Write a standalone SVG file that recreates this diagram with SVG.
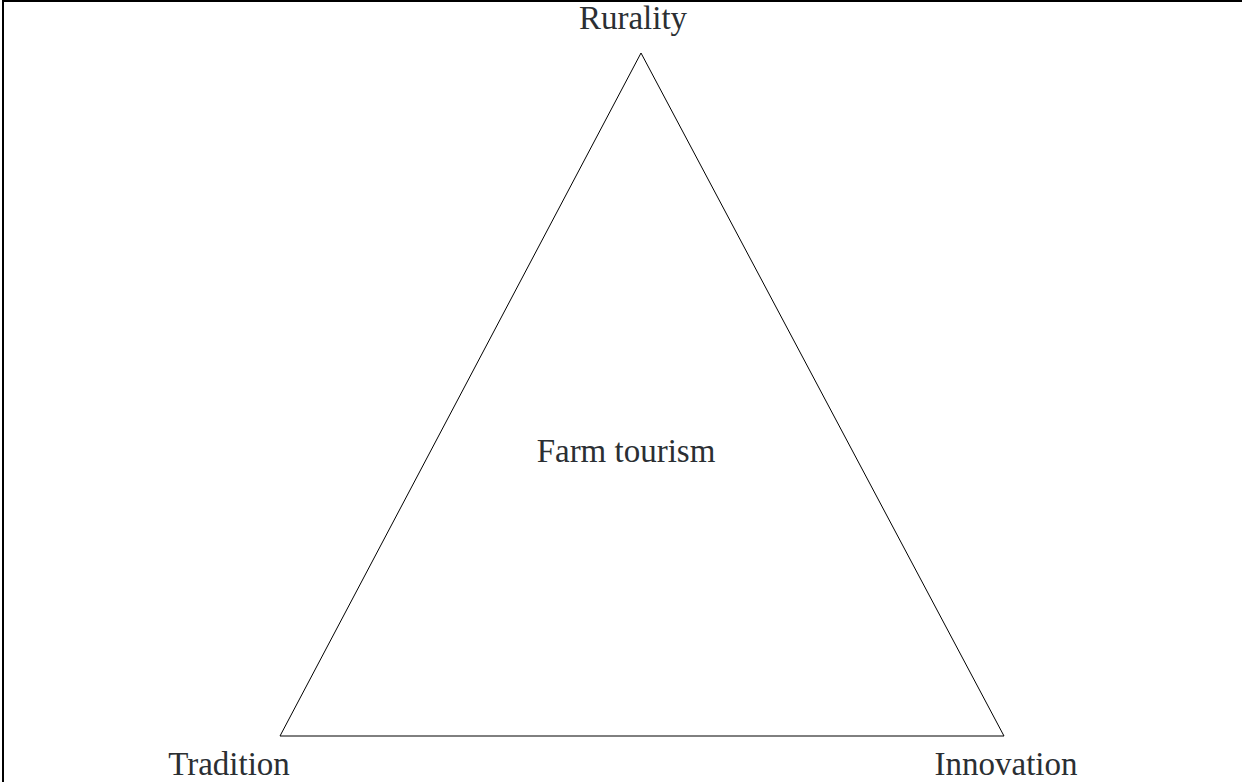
<svg xmlns="http://www.w3.org/2000/svg" width="1242" height="782" viewBox="0 0 1242 782">
  <style>
    .lbl { font-family: "Liberation Serif", "Times New Roman", serif; font-size: 33px; fill: #2b2f33; text-anchor: middle; }
    .edge { fill: none; stroke: #000; stroke-width: 1; }
    .frame { stroke: #000; stroke-width: 2; fill: none; }
  </style>
  <rect width="1242" height="782" fill="#fff"/>
  <!-- page frame: top and left rules only -->
  <line class="frame" x1="2" y1="1" x2="1242" y2="1"/>
  <line class="frame" x1="3" y1="0" x2="3" y2="782"/>
  <g id="connectors">
    <path class="edge" d="M641 53 L280 736 L1004 736 Z"/>
  </g>
  <g id="node-rurality">
    <text class="lbl" x="633" y="29">Rurality</text>
  </g>
  <g id="node-tradition">
    <text class="lbl" x="229" y="775">Tradition</text>
  </g>
  <g id="node-innovation">
    <text class="lbl" x="1006" y="775">Innovation</text>
  </g>
  <g id="node-farm-tourism">
    <text class="lbl" x="626" y="462">Farm tourism</text>
  </g>
</svg>
